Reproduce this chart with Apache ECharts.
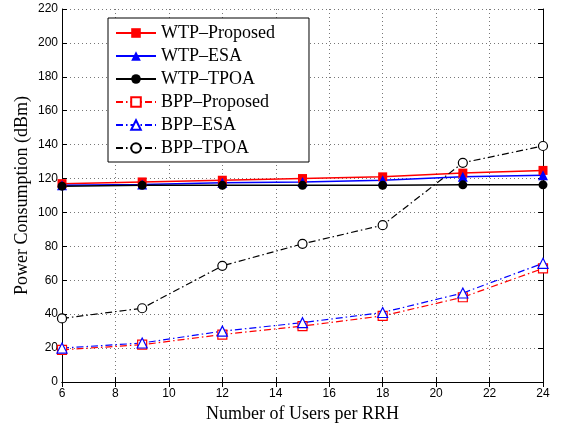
<!DOCTYPE html>
<html>
<head>
<meta charset="utf-8">
<script src="https://cdn.jsdelivr.net/npm/echarts@6/dist/echarts.min.js"></script>
<style>
html,body{margin:0;padding:0;background:#fff;}
#c{width:562px;height:424px;}
</style>
</head>
<body>
<div id="c"></div>
<script>
var users = [6, 9, 12, 15, 18, 21, 24];
var wtpProposed = [117, 118, 119, 120, 121, 123.2, 124.8];
var wtpESA = [116, 116.5, 117.5, 118, 119, 121, 122];
var wtpTPOA = [115.5, 116, 116, 116, 116, 116.3, 116.3];
var bppProposed = [19, 22, 28, 33, 39, 50, 67];
var bppESA = [20, 23, 30, 35, 41, 52.5, 70];
var bppTPOA = [37.5, 43.5, 68.5, 81.5, 92.5, 129.3, 139.2];
var xTicks = [6, 8, 10, 12, 14, 16, 18, 20, 22, 24];
var yTicks = [0, 20, 40, 60, 80, 100, 120, 140, 160, 180, 200, 220];

function pairs(v) { return users.map(function (u, i) { return [u, v[i]]; }); }

var dashDot = [7, 3, 1.5, 3];
function mk(name, vals, color, symbol, filled, dashed) {
  return {
    name: name,
    type: 'line',
    data: pairs(vals),
    symbol: symbol,
    symbolSize: symbol === 'triangle' ? 10 : 9,
    showSymbol: true,
    lineStyle: { color: color, width: dashed ? 1.2 : 1.5, type: dashed ? dashDot : 'solid' },
    itemStyle: { color: filled ? color : '#fff', borderColor: color, borderWidth: filled ? 0 : 1.2 },
    emphasis: { disabled: true },
    animation: false
  };
}

var chart = echarts.init(document.getElementById('c'), null, { renderer: 'canvas' });
var axisText = { fontFamily: 'Liberation Sans', fontSize: 12, color: '#000' };
chart.setOption({
  backgroundColor: '#fff',
  animation: false,
  grid: { left: 62, right: 19, top: 9, bottom: 42, containLabel: false, outerBoundsMode: 'none' },
  xAxis: [{
    type: 'value', min: 6, max: 24, interval: 2,
    name: 'Number of Users per RRH', nameLocation: 'middle', nameGap: 23, nameMoveOverlap: false,
    nameTextStyle: { fontFamily: 'Liberation Serif', fontSize: 18, color: '#000' },
    axisLine: { lineStyle: { color: '#000', width: 1 } },
    axisTick: { inside: true, length: 5, lineStyle: { color: '#000' } },
    axisLabel: Object.assign({ margin: 6, formatter: function (v) { return xTicks.indexOf(v) >= 0 ? String(v) : ''; } }, axisText),
    splitLine: { show: true, lineStyle: { color: '#777', type: [1, 3], width: 1 } }
  }, {
    type: 'value', min: 6, max: 24, interval: 2, position: 'top',
    axisLine: { show: true, lineStyle: { color: '#000', width: 1 } },
    axisTick: { inside: true, length: 5, lineStyle: { color: '#000' } },
    axisLabel: { show: false }, splitLine: { show: false }
  }],
  yAxis: [{
    type: 'value', min: 0, max: 220, interval: 20,
    name: 'Power Consumption (dBm)', nameLocation: 'middle', nameGap: 31, nameRotate: 90, nameMoveOverlap: false,
    nameTextStyle: { fontFamily: 'Liberation Serif', fontSize: 18, color: '#000' },
    axisLine: { show: true, lineStyle: { color: '#000', width: 1 } },
    axisTick: { show: true, inside: true, length: 5, lineStyle: { color: '#000' } },
    axisLabel: Object.assign({ margin: 4, formatter: function (v) { return yTicks.indexOf(v) >= 0 ? String(v) : ''; } }, axisText),
    splitLine: { show: true, lineStyle: { color: '#777', type: [1, 3], width: 1 } }
  }, {
    type: 'value', min: 0, max: 220, interval: 20, position: 'right',
    axisLine: { show: true, lineStyle: { color: '#000', width: 1 } },
    axisTick: { show: true, inside: true, length: 5, lineStyle: { color: '#000' } },
    axisLabel: { show: false }, splitLine: { show: false }
  }],
  legend: {
    orient: 'vertical', left: 108, top: 18,
    backgroundColor: '#fff', borderColor: '#000', borderWidth: 1, borderRadius: 0,
    padding: [6, 34, 5, 7],
    itemWidth: 40, itemHeight: 12, itemGap: 5,
    textStyle: { fontFamily: 'Liberation Serif', fontSize: 18, color: '#000', lineHeight: 18 },
    data: ['WTP–Proposed', 'WTP–ESA', 'WTP–TPOA', 'BPP–Proposed', 'BPP–ESA', 'BPP–TPOA']
  },
  series: [
    mk('WTP–Proposed', wtpProposed, '#ff0000', 'rect', true, false),
    mk('WTP–ESA', wtpESA, '#0000ff', 'triangle', true, false),
    mk('WTP–TPOA', wtpTPOA, '#000000', 'circle', true, false),
    mk('BPP–Proposed', bppProposed, '#ff0000', 'rect', false, true),
    mk('BPP–ESA', bppESA, '#0000ff', 'triangle', false, true),
    mk('BPP–TPOA', bppTPOA, '#000000', 'circle', false, true)
  ]
});
</script>
</body>
</html>
